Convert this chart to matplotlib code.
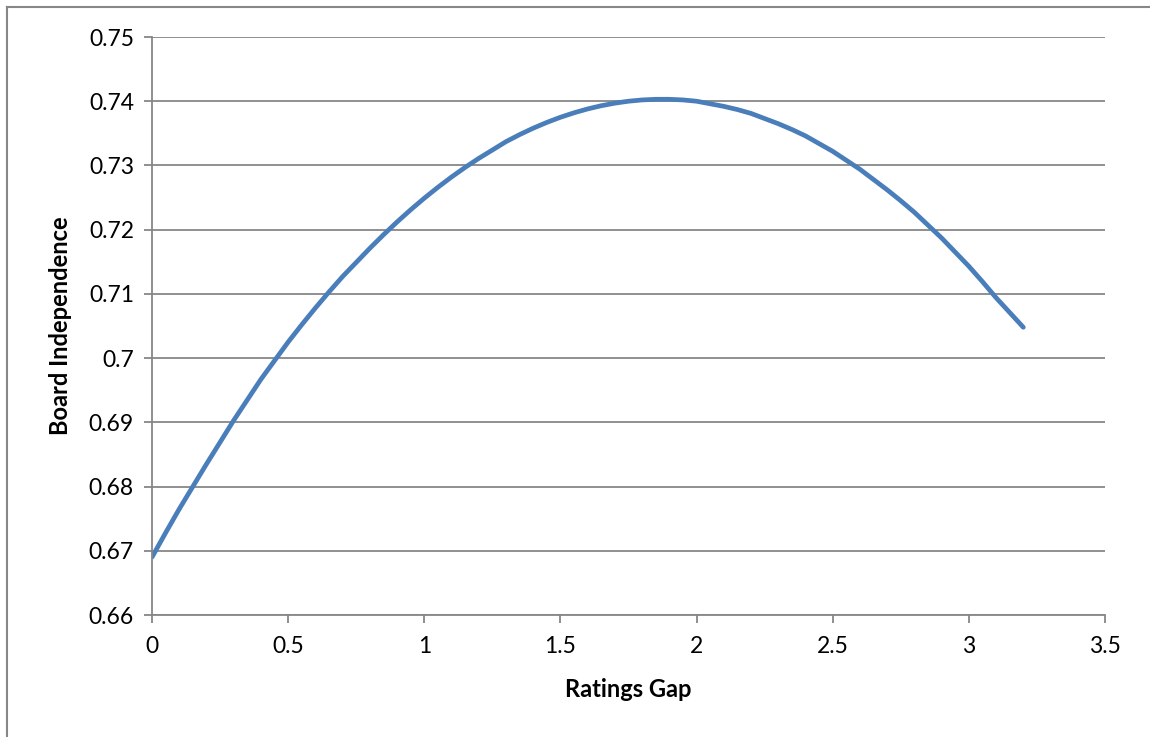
import numpy as np
import matplotlib
matplotlib.use("Agg")
import matplotlib.pyplot as plt
from matplotlib.lines import Line2D

# values
gap = [0.0, 0.05, 0.1, 0.15, 0.2, 0.25, 0.3, 0.35, 0.4, 0.45, 0.5, 0.55,
       0.6, 0.65, 0.7, 0.75, 0.8, 0.85, 0.9, 0.95, 1.0, 1.05, 1.1, 1.15,
       1.2, 1.25, 1.3, 1.35, 1.4, 1.45, 1.5, 1.55, 1.6, 1.65, 1.7, 1.75,
       1.8, 1.85, 1.9, 1.95, 2.0, 2.05, 2.1, 2.15, 2.2, 2.25, 2.3, 2.35,
       2.4, 2.45, 2.5, 2.55, 2.6, 2.65, 2.7, 2.75, 2.8, 2.85, 2.9, 2.95,
       3.0, 3.05, 3.1, 3.15, 3.2]
independence = [0.669, 0.6728, 0.6765, 0.6800, 0.6835, 0.6869, 0.6903, 0.6935,
                0.6967, 0.6996, 0.7025, 0.7052, 0.7078, 0.7103, 0.7127, 0.7149,
                0.7171, 0.7192, 0.7212, 0.7231, 0.7249, 0.7266, 0.7282, 0.7297,
                0.7311, 0.7324, 0.7337, 0.7348, 0.7358, 0.7367, 0.7375, 0.7382,
                0.7388, 0.7393, 0.7397, 0.7400, 0.7402, 0.7403, 0.7403, 0.7402,
                0.7400, 0.7396, 0.7392, 0.7387, 0.7381, 0.7373, 0.7365, 0.7356,
                0.7346, 0.7334, 0.7322, 0.7308, 0.7294, 0.7278, 0.7262, 0.7245,
                0.7227, 0.7207, 0.7187, 0.7165, 0.7143, 0.7119, 0.7094, 0.7071,
                0.7048]
xticks = [0, 0.5, 1, 1.5, 2, 2.5, 3, 3.5]
xticklabels = ["0", "0.5", "1", "1.5", "2", "2.5", "3", "3.5"]
yticks = [0.66, 0.67, 0.68, 0.69, 0.70, 0.71, 0.72, 0.73, 0.74, 0.75]
yticklabels = ["0.66", "0.67", "0.68", "0.69", "0.7", "0.71", "0.72", "0.73", "0.74", "0.75"]

plt.rcParams['font.family'] = ['Lato', 'DejaVu Sans']
gray = "#878787"

fig = plt.figure(figsize=(11.5, 7.37), dpi=100)
ax = fig.add_axes([152/1150, 1-615/737, (1105-152)/1150, (615-37)/737])

ax.plot(gap, independence, color="#4A7EBB", lw=3.4, solid_capstyle="round",
        solid_joinstyle="round")

ax.set_xlim(0, 3.5)
ax.set_ylim(0.66, 0.75)
ax.set_xticks(xticks)
ax.set_xticklabels(xticklabels)
ax.set_yticks(yticks)
ax.set_yticklabels(yticklabels)
ax.tick_params(axis="both", labelsize=16.5, color=gray, width=1.3, length=6, direction="out")
ax.tick_params(axis="x", pad=9)
ax.tick_params(axis="y", pad=7)
ax.grid(axis="y", color=gray, lw=1.3)
ax.set_axisbelow(True)
for s in ["top", "right"]:
    ax.spines[s].set_visible(False)
for s in ["left", "bottom"]:
    ax.spines[s].set_color(gray)
    ax.spines[s].set_linewidth(1.3)

ax.set_xlabel("Ratings Gap", fontsize=17, fontweight="bold", labelpad=15)
ax.set_ylabel("Board Independence", fontsize=17, fontweight="bold", labelpad=12)

# outer chart frame (left and top edges visible)
fig.add_artist(Line2D([7/1150, 7/1150], [0, 1-7/737], color=gray, lw=1.5, transform=fig.transFigure))
fig.add_artist(Line2D([7/1150, 1], [1-7/737, 1-7/737], color=gray, lw=1.5, transform=fig.transFigure))

fig.savefig("out.png", dpi=100)
